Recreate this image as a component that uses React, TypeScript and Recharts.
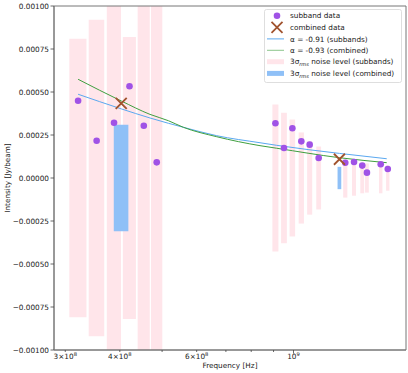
import React from 'react';
import { ComposedChart, XAxis, YAxis, Scatter, Line, ReferenceArea, Legend, Label } from 'recharts';

// ---- data (frequencies in MHz, intensities in Jy/beam) ----
const subbandFreqMHz = [321, 354, 388, 421, 454, 486, 909, 951, 994, 1042, 1089, 1142, 1314, 1376, 1437, 1473, 1584, 1644];
const subbandFlux = [0.000449, 0.000217, 0.000321, 0.000533, 0.000304, 0.000091, 0.000318, 0.000174, 0.000289, 0.000213, 0.000194, 0.000116, 0.000089, 0.000093, 0.000072, 0.000031, 0.00008, 0.000052];
const subbandNoise3Sigma = [0.00081, 0.00092, 0.00112, 0.00082, 0.0012, 0.00108, 0.000427, 0.00038, 0.00034, 0.000265, 0.000213, 0.000183, 0.000114, 0.000103, 0.000089, 0.000085, 0.000089, 0.000074];
const subbandBandwidthMHz = [29, 29, 29, 29, 29, 29, 29, 29, 29, 29, 29, 29, 29, 29, 29, 29, 29, 29];

const combinedFreqMHz = [403, 1274];
const combinedFlux = [0.000434, 0.000109];
const combinedNoise3Sigma = [0.00031, 0.000065];
const combinedBandwidthMHz = [31, 25];

const fitFreqMHz = [321, 403, 469, 517, 559, 667, 838, 915, 1274, 1635];
const fitSubbands = [0.000487, 0.000402, 0.000349, 0.000318, 0.000295, 0.000246, 0.000205, 0.00019, 0.000143, 0.000112];
const fitCombined = [0.000574, 0.000448, 0.00037, 0.000333, 0.000295, 0.00024, 0.000188, 0.000173, 0.000118, 0.000089];

const yTicks = [-0.001, -0.00075, -0.0005, -0.00025, 0, 0.00025, 0.0005, 0.00075, 0.001];
const xTicks = [3e8, 4e8, 5e8, 6e8, 7e8, 8e8, 9e8, 1e9];
const xTickMantissa = ['3×10', '4×10', '', '6×10', '', '', '', '10'];
const xTickExponent = ['8', '8', '', '8', '', '', '', '9'];
const xMajorTicks = [1e9];
const xDomain = [2.827e8, 1.81e9];
const yDomain = [-0.001, 0.001];

// ---- tables built from the arrays ----
const MHZ = 1e6;
const subbandData = subbandFreqMHz.map((f, i) => ({ f: f * MHZ, v: subbandFlux[i] }));
const combinedData = combinedFreqMHz.map((f, i) => ({ f: f * MHZ, v: combinedFlux[i] }));
const fitData = fitFreqMHz.map((f, i) => ({ f: f * MHZ, a: fitSubbands[i], b: fitCombined[i] }));

const FONT = 'DejaVu Sans, sans-serif';
const TXT = '#222';
const PURPLE = '#a052e6';
const BROWN = '#a0522d';
const PINK = '#ffe5ea';
const LIGHTBLUE = '#8fc0f7';
const LINEBLUE = '#5aa8f0';
const GREEN = '#3f9f3f';

const XTick = (props: any) => {
  const { x, y, payload } = props;
  const idx = xTicks.indexOf(payload.value);
  const major = xMajorTicks.includes(payload.value);
  const mant = idx >= 0 ? xTickMantissa[idx] : '';
  return (
    <g>
      <line x1={x} x2={x} y1={y} y2={y + (major ? 3.5 : 2)} stroke="#444" strokeWidth={0.8} />
      {mant !== '' && (
        <text x={x} y={y + 8.5} textAnchor="middle" fontSize={7.3} fill={TXT} fontFamily={FONT}>
          {mant}
          <tspan dy={-3} fontSize={5.2}>{xTickExponent[idx]}</tspan>
        </text>
      )}
    </g>
  );
};

const Dot = (p: any) => <circle cx={p.cx} cy={p.cy} r={3.3} fill={PURPLE} />;
const Cross = (p: any) => (
  <g stroke={BROWN} strokeWidth={1.8}>
    <line x1={p.cx - 5.5} y1={p.cy - 5.5} x2={p.cx + 5.5} y2={p.cy + 5.5} />
    <line x1={p.cx - 5.5} y1={p.cy + 5.5} x2={p.cx + 5.5} y2={p.cy - 5.5} />
  </g>
);

const LegendBox = () => {
  const rows = [6.7, 18.3, 29.9, 41.3, 52.7, 64.4];
  const tx = 26;
  const hx1 = 3;
  const hx2 = 20;
  const mx = 13;
  const fs = 7.3;
  return (
    <svg width={138} height={74} style={{ display: 'block', fontFamily: FONT }}>
      <rect x={0.5} y={0.5} width={137} height={73} rx={2} fill="#fff" fillOpacity={0.85} stroke="#d6d6d6" strokeWidth={0.8} />
      <circle cx={mx} cy={rows[0]} r={3.3} fill={PURPLE} />
      <g stroke={BROWN} strokeWidth={1.8}>
        <line x1={mx - 5.5} y1={rows[1] - 5.5} x2={mx + 5.5} y2={rows[1] + 5.5} />
        <line x1={mx - 5.5} y1={rows[1] + 5.5} x2={mx + 5.5} y2={rows[1] - 5.5} />
      </g>
      <line x1={hx1} x2={hx2} y1={rows[2]} y2={rows[2]} stroke={LINEBLUE} strokeWidth={1} />
      <line x1={hx1} x2={hx2} y1={rows[3]} y2={rows[3]} stroke={GREEN} strokeWidth={1} strokeOpacity={0.6} />
      <rect x={hx1} y={rows[4] - 2.5} width={hx2 - hx1} height={5} fill={PINK} />
      <rect x={hx1} y={rows[5] - 2.5} width={hx2 - hx1} height={5} fill={LIGHTBLUE} />
      <g fontSize={fs} fill={TXT}>
        <text x={tx} y={rows[0] + 2.6}>subband data</text>
        <text x={tx} y={rows[1] + 2.6}>combined data</text>
        <text x={tx} y={rows[2] + 2.6}>α = -0.91 (subbands)</text>
        <text x={tx} y={rows[3] + 2.6}>α = -0.93 (combined)</text>
        <text x={tx} y={rows[4] + 2.6}>3σ<tspan fontSize={5} dy={1.5} fontStyle="italic">rms</tspan><tspan dy={-1.5}> noise level (subbands)</tspan></text>
        <text x={tx} y={rows[5] + 2.6}>3σ<tspan fontSize={5} dy={1.5} fontStyle="italic">rms</tspan><tspan dy={-1.5}> noise level (combined)</tspan></text>
      </g>
    </svg>
  );
};

export default function App() {
  return (
    <div style={{ position: 'absolute', left: 0, top: 0, fontFamily: FONT }}>
      <ComposedChart width={408} height={373} margin={{ top: 6, right: 2, bottom: 0, left: 0 }} style={{ fontFamily: FONT }}>
        <XAxis
          dataKey="f"
          type="number"
          scale="log"
          domain={xDomain}
          allowDataOverflow
          ticks={xTicks}
          interval={0}
          tick={<XTick />}
          tickLine={false}
          tickSize={0}
          tickMargin={0}
          height={23}
          axisLine={{ stroke: '#777', strokeWidth: 1 }}
        >
          <Label
            content={(p: any) => {
              const vb = p.viewBox;
              return (
                <text x={vb.x + vb.width / 2} y={368} textAnchor="middle" fontSize={7.3} fill={TXT} fontFamily={FONT}>
                  Frequency [Hz]
                </text>
              );
            }}
          />
        </XAxis>
        <YAxis
          type="number"
          domain={yDomain}
          allowDataOverflow
          ticks={yTicks}
          interval={0}
          width={54}
          tickFormatter={(v: number) => v.toFixed(5).replace('-', '\u2212')}
          tick={{ fontSize: 7.3, fill: TXT, fontFamily: FONT }}
          tickSize={3.5}
          tickMargin={1.5}
          tickLine={{ stroke: '#444', strokeWidth: 0.8 }}
          axisLine={{ stroke: '#777', strokeWidth: 1 }}
        >
          <Label
            content={(p: any) => {
              const vb = p.viewBox;
              const cy = vb.y + vb.height / 2;
              return (
                <text x={9.5} y={cy} transform={`rotate(-90 9.5 ${cy})`} textAnchor="middle" fontSize={7.3} fill={TXT} fontFamily={FONT}>
                  Intensity [Jy/beam]
                </text>
              );
            }}
          />
        </YAxis>

        {subbandFreqMHz.map((f, i) => (
          <ReferenceArea
            key={`sb${i}`}
            x1={(f - subbandBandwidthMHz[i] / 2) * MHZ}
            x2={(f + subbandBandwidthMHz[i] / 2) * MHZ}
            y1={-subbandNoise3Sigma[i]}
            y2={subbandNoise3Sigma[i]}
            fill={PINK}
            fillOpacity={1}
            stroke="none"
            ifOverflow="hidden"
          />
        ))}
        {combinedFreqMHz.map((f, i) => (
          <ReferenceArea
            key={`cb${i}`}
            x1={(f - combinedBandwidthMHz[i] / 2) * MHZ}
            x2={(f + combinedBandwidthMHz[i] / 2) * MHZ}
            y1={-combinedNoise3Sigma[i]}
            y2={combinedNoise3Sigma[i]}
            fill={LIGHTBLUE}
            fillOpacity={1}
            stroke="none"
            ifOverflow="hidden"
          />
        ))}

        <Line data={fitData} dataKey="a" type="monotone" stroke={LINEBLUE} strokeWidth={1} dot={false} activeDot={false} isAnimationActive={false} />
        <Line data={fitData} dataKey="b" type="monotone" stroke={GREEN} strokeWidth={1} dot={false} activeDot={false} isAnimationActive={false} />
        <Scatter data={subbandData} dataKey="v" shape={<Dot />} isAnimationActive={false} />
        <Scatter data={combinedData} dataKey="v" shape={<Cross />} isAnimationActive={false} />

        <ReferenceArea x1={xDomain[0]} x2={xDomain[1]} y1={yDomain[0]} y2={yDomain[1]} fill="none" stroke="#777" strokeWidth={1} ifOverflow="visible" />

        <Legend
          layout="horizontal"
          verticalAlign="middle"
          align="center"
          wrapperStyle={{ position: 'absolute', left: 264, top: 9, width: 138, height: 74 }}
          content={() => <LegendBox />}
        />
      </ComposedChart>
    </div>
  );
}
